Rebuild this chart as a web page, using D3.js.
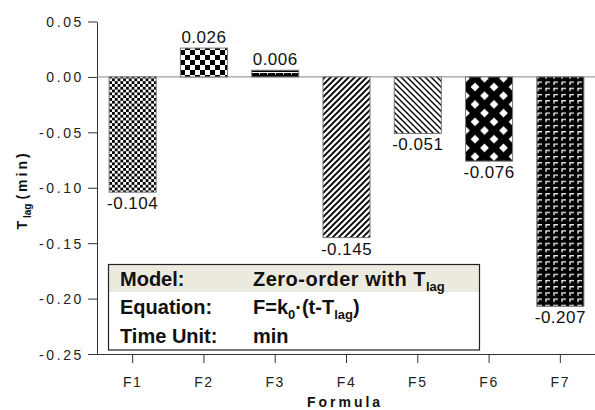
<html>
<head>
<script src="https://d3js.org/d3.v7.min.js"></script>
<style>
    body { margin: 0; background: #fff; }
    svg { font-family: "Liberation Sans", Arial, sans-serif; }
    .tick-label { font-size: 14px; letter-spacing: 1.6px; fill: #222; }
    .y-tick { letter-spacing: 2.6px; }
    .value-label { font-size: 17px; letter-spacing: 0.5px; fill: #111; }
    .axis-title { font-size: 14px; font-weight: bold; letter-spacing: 3px; fill: #111; }
    .box-text { font-size: 20px; font-weight: bold; fill: #111; }
</style>
</head>
<body>
<svg id="chart" width="595" height="410"></svg>
<script>
    var formulas = ['F1', 'F2', 'F3', 'F4', 'F5', 'F6', 'F7'];
    var tlag = [-0.104, 0.026, 0.006, -0.145, -0.051, -0.076, -0.207];
    var valueLabels = ['-0.104', '0.026', '0.006', '-0.145', '-0.051', '-0.076', '-0.207'];
    var yTicks = [0.05, 0.00, -0.05, -0.10, -0.15, -0.20, -0.25];
    var patternIds = ['chkSmall', 'chkBig', 'brick', 'diagUp', 'diagDown', 'diamond', 'gamma'];
    var boxLabels = ['Model:', 'Equation:', 'Time Unit:'];

    var svg = d3.select('#chart');
    var defs = svg.append('defs');

    function pattern(id, w, h) {
        return defs.append('pattern')
            .attr('id', id)
            .attr('patternUnits', 'userSpaceOnUse')
            .attr('width', w).attr('height', h);
    }

    // small checkerboard
    var p = pattern('chkSmall', 5.6, 5.6);
    p.append('rect').attr('width', 5.6).attr('height', 5.6).attr('fill', '#fff');
    p.append('rect').attr('width', 2.8).attr('height', 2.8).attr('fill', '#000');
    p.append('rect').attr('x', 2.8).attr('y', 2.8).attr('width', 2.8).attr('height', 2.8).attr('fill', '#000');

    // big checkerboard
    p = pattern('chkBig', 10, 10);
    p.append('rect').attr('width', 10).attr('height', 10).attr('fill', '#fff');
    p.append('rect').attr('width', 5).attr('height', 5).attr('fill', '#000');
    p.append('rect').attr('x', 5).attr('y', 5).attr('width', 5).attr('height', 5).attr('fill', '#000');

    // brick-ish
    p = pattern('brick', 8, 6);
    p.append('rect').attr('width', 8).attr('height', 6).attr('fill', '#000');
    p.append('rect').attr('y', 0).attr('width', 8).attr('height', 1).attr('fill', '#fff');
    p.append('rect').attr('x', 3).attr('y', 1).attr('width', 1).attr('height', 1.5).attr('fill', '#fff');

    // diagonal /
    p = pattern('diagUp', 6, 6);
    p.append('rect').attr('width', 6).attr('height', 6).attr('fill', '#fff');
    p.append('path').attr('d', 'M-1,7 L7,-1 M-1,1 L1,-1 M5,7 L7,5')
        .attr('stroke', '#000').attr('stroke-width', 1.9);

    // diagonal \
    p = pattern('diagDown', 6, 6);
    p.append('rect').attr('width', 6).attr('height', 6).attr('fill', '#fff');
    p.append('path').attr('d', 'M-1,-1 L7,7 M5,-1 L7,1 M-1,5 L1,7')
        .attr('stroke', '#000').attr('stroke-width', 1.4);

    // black lattice with white diamonds
    var dw = 19, dh = 17.4, r = 4.4;
    p = pattern('diamond', dw, dh);
    p.append('rect').attr('width', dw).attr('height', dh).attr('fill', '#000');
    [[0, 0], [dw, 0], [0, dh], [dw, dh], [dw / 2, dh / 2]].forEach(function (c) {
        p.append('path')
            .attr('d', 'M' + (c[0] - r) + ',' + c[1] + ' L' + c[0] + ',' + (c[1] - r) +
                ' L' + (c[0] + r) + ',' + c[1] + ' L' + c[0] + ',' + (c[1] + r) + 'Z')
            .attr('fill', '#fff');
    });

    // black with white corner marks
    p = pattern('gamma', 8, 6.2);
    p.append('rect').attr('width', 8).attr('height', 6.2).attr('fill', '#000');
    p.append('path').attr('d', 'M2,4.5 L2,1.5 L6,1.5')
        .attr('fill', 'none').attr('stroke', '#eee').attr('stroke-width', 1.3);

    var plotLeft = 97, plotRight = 596, plotTop = 21.5, plotBottom = 354;

    var x = d3.scaleBand()
        .domain(formulas)
        .range([plotLeft, plotRight])
        .paddingInner(0.34)
        .paddingOuter(0.17);

    var y = d3.scaleLinear()
        .domain([-0.25, 0.05])
        .range([plotBottom, plotTop]);

    // y axis
    var yAxis = svg.append('g')
        .attr('transform', 'translate(' + plotLeft + ',0)')
        .call(d3.axisLeft(y).tickValues(yTicks).tickSize(9).tickSizeOuter(0)
            .tickFormat(function (d) { return d3.format('.2f')(d).replace('−', '-'); }));
    yAxis.select('.domain').attr('stroke', '#333');
    yAxis.selectAll('.tick line').attr('stroke', '#333');
    yAxis.selectAll('.tick text').attr('class', 'tick-label y-tick').attr('x', -13).attr('dy', '0.36em');
    yAxis.attr('font-family', null).attr('font-size', null);

    // x axis
    var xAxis = svg.append('g')
        .attr('transform', 'translate(0,' + plotBottom + ')')
        .call(d3.axisBottom(x).tickSize(9).tickSizeOuter(0));
    xAxis.select('.domain').attr('stroke', '#333').attr('d', 'M' + plotLeft + ',0.5H595');
    xAxis.selectAll('.tick line').attr('stroke', '#333');
    xAxis.selectAll('.tick text').attr('class', 'tick-label').attr('y', 28).attr('dy', '0.36em');
    xAxis.attr('font-family', null).attr('font-size', null);

    // zero line
    svg.append('line')
        .attr('x1', plotLeft).attr('x2', 595)
        .attr('y1', y(0)).attr('y2', y(0))
        .attr('stroke', '#888').attr('stroke-width', 1);

    // bars
    svg.selectAll('.bar')
        .data(tlag)
        .enter().append('rect')
        .attr('class', 'bar')
        .attr('x', function (d, i) { return x(formulas[i]); })
        .attr('width', x.bandwidth())
        .attr('y', function (d) { return y(Math.max(0, d)); })
        .attr('height', function (d) { return Math.abs(y(d) - y(0)); })
        .attr('fill', function (d, i) { return 'url(#' + patternIds[i] + ')'; })
        .attr('stroke', '#777')
        .attr('stroke-width', 1);

    // value labels
    svg.selectAll('.value-label')
        .data(tlag)
        .enter().append('text')
        .attr('class', 'value-label')
        .attr('text-anchor', 'middle')
        .attr('x', function (d, i) { return x(formulas[i]) + x.bandwidth() / 2; })
        .attr('y', function (d) { return d >= 0 ? y(d) - 5 : y(d) + 17; })
        .text(function (d, i) { return valueLabels[i]; });

    // axis titles
    svg.append('text')
        .attr('class', 'axis-title')
        .attr('text-anchor', 'middle')
        .attr('x', 345)
        .attr('y', 407)
        .text('Formula');

    var yt = svg.append('text')
        .attr('class', 'axis-title')
        .attr('text-anchor', 'middle')
        .attr('transform', 'translate(27,190) rotate(-90)');
    yt.append('tspan').text('T');
    yt.append('tspan').attr('dy', 4).attr('font-size', 10).attr('letter-spacing', 0).text('lag');
    yt.append('tspan').attr('dy', -4).attr('dx', 4).text('(min)');

    // info box
    var box = svg.append('g');
    box.append('rect')
        .attr('x', 108.5).attr('y', 265).attr('width', 371).attr('height', 27)
        .attr('fill', '#ece9df');
    box.append('rect')
        .attr('x', 108.5).attr('y', 264.5).attr('width', 371).attr('height', 85.5)
        .attr('fill', 'none').attr('stroke', '#222').attr('stroke-width', 1.2);

    var rowY = [285.5, 314, 342.5];
    box.selectAll('.box-label')
        .data(boxLabels)
        .enter().append('text')
        .attr('class', 'box-text')
        .attr('x', 120)
        .attr('y', function (d, i) { return rowY[i]; })
        .text(function (d) { return d; });

    var t1 = box.append('text').attr('class', 'box-text').attr('x', 253).attr('y', rowY[0])
        .attr('letter-spacing', 0.5);
    t1.append('tspan').text('Zero-order with T');
    t1.append('tspan').attr('dy', 5).attr('font-size', 13).attr('letter-spacing', 0).text('lag');

    var t2 = box.append('text').attr('class', 'box-text').attr('x', 253).attr('y', rowY[1]);
    t2.append('tspan').text('F=k');
    t2.append('tspan').attr('dy', 5).attr('font-size', 13).text('0');
    t2.append('tspan').attr('dy', -5).text('\u00b7(t-T');
    t2.append('tspan').attr('dy', 5).attr('font-size', 13).text('lag');
    t2.append('tspan').attr('dy', -5).text(')');

    box.append('text').attr('class', 'box-text').attr('x', 253).attr('y', rowY[2]).text('min');
</script>
</body>
</html>
